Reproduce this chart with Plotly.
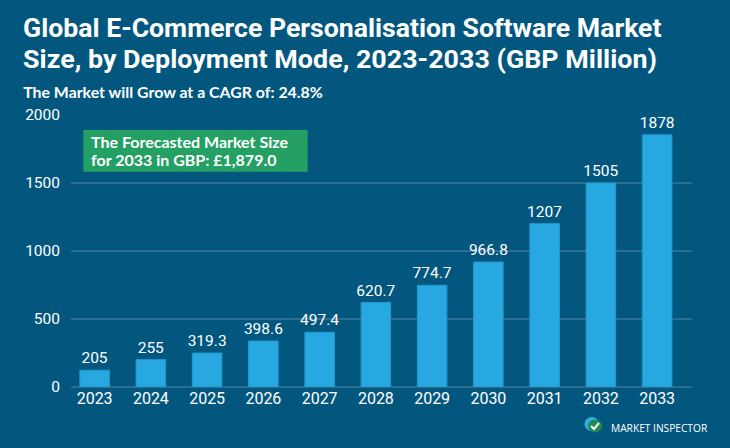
import plotly.graph_objects as go

years = ["2023", "2024", "2025", "2026", "2027", "2028", "2029", "2030", "2031", "2032", "2033"]
bar_values = [123, 201, 250, 338, 402, 621, 748, 919, 1201, 1500, 1855]
bar_labels = ["205", "255", "319.3", "398.6", "497.4", "620.7", "774.7", "966.8", "1207", "1505", "1878"]
y_ticks = [0, 500, 1000, 1500, 2000]

title_line1 = "Global E-Commerce Personalisation Software Market"
title_line2 = "Size, by Deployment Mode, 2023-2033 (GBP Million)"
subtitle = "The Market will Grow at a CAGR of: 24.8%"
callout_line1 = "The Forecasted Market Size"
callout_line2 = "for 2033 in GBP: £1,879.0"
brand = "MARKET INSPECTOR"

BG = "#03577f"
BAR = "#28a8e0"
GRID = "#2b6e93"
W, H = 730, 448
L, R, T, B = 71, 38, 115, 61
pw, ph = W - L - R, H - T - B

def px(x):
    return (x - L) / pw

def py(y):
    return (H - B - y) / ph

fig = go.Figure()
fig.add_trace(go.Bar(
    x=years, y=bar_values, text=bar_labels, textposition="outside", constraintext="none",
    textfont=dict(family="Roboto", size=15.5, color="white"),
    marker=dict(color=BAR, line=dict(color="#2198d0", width=1)),
    width=0.525, cliponaxis=False, hoverinfo="skip",
))

annotations = [
    dict(text="<b>" + title_line1 + "</b>", x=px(22.5), y=py(28.5), xanchor="left", yanchor="middle",
         font=dict(family="Roboto", size=25.5, color="white")),
    dict(text="<b>" + title_line2 + "</b>", x=px(22.5), y=py(59.5), xanchor="left", yanchor="middle",
         font=dict(family="Roboto", size=25.5, color="white")),
    dict(text="<b>" + subtitle + "</b>", x=px(23), y=py(92), xanchor="left", yanchor="middle",
         font=dict(family="Lato", size=15, color="white")),
    dict(text="<b>" + callout_line1 + "</b>", x=px(90.5), y=py(141.8), xanchor="left", yanchor="middle",
         font=dict(family="Lato", size=16, color="white")),
    dict(text="<b>" + callout_line2 + "</b>", x=px(90.5), y=py(159.5), xanchor="left", yanchor="middle",
         font=dict(family="Lato", size=16, color="white")),
    dict(text=brand, x=px(610.5), y=py(428), xanchor="left", yanchor="middle",
         font=dict(family="Open Sans", size=10.2, color="white")),
]
for a in annotations:
    a.update(xref="paper", yref="paper", showarrow=False, borderpad=0, borderwidth=0)

shapes = [
    dict(type="rect", xref="paper", yref="paper", x0=px(83.3), x1=px(307.7), y0=py(171.7), y1=py(130),
         fillcolor="#24a064", line=dict(width=0), layer="above"),
    dict(type="circle", xref="paper", yref="paper", x0=px(584.5), x1=px(599), y0=py(431), y1=py(417),
         fillcolor="#35ace3", line=dict(width=0)),
    dict(type="circle", xref="paper", yref="paper", x0=px(588), x1=px(602), y0=py(432.5), y1=py(419.5),
         fillcolor="#1e8c50", line=dict(width=0)),
    dict(type="path", xref="paper", yref="paper",
         path=f"M {px(591)} {py(426)} L {px(594)} {py(429)} L {px(599)} {py(423)}",
         line=dict(color="white", width=2)),
]

fig.update_layout(
    width=W, height=H, margin=dict(l=L, r=R, t=T, b=B),
    paper_bgcolor=BG, plot_bgcolor=BG, showlegend=False, hovermode=False,
    annotations=annotations, shapes=shapes,
    xaxis=dict(type="category", range=[-0.42, 10.62], showgrid=False, ticks="",
               tickfont=dict(family="Roboto", size=16, color="white"), showline=False, zeroline=False),
    yaxis=dict(range=[0, 2000], tickvals=y_ticks, showgrid=True, gridcolor=GRID, gridwidth=2,
               zeroline=True, zerolinecolor=GRID, zerolinewidth=2, ticks="", ticklabelstandoff=10,
               tickfont=dict(family="Roboto", size=15.5, color="white")),
)

post = """
document.body.style.margin = '0';
document.body.style.overflow = 'hidden';
var targets = {};
targets[%r] = 639; targets[%r] = 634; targets[%r] = 300;
document.querySelectorAll('text.annotation-text').forEach(function(t){
  var w = targets[t.textContent];
  if (!w) return;
  var bb = t.getBBox();
  var s = w / bb.width;
  t.setAttribute('transform', 'translate(' + bb.x + ',0) scale(' + s + ',1) translate(' + (-bb.x) + ',0)');
});
""" % (title_line1, title_line2, subtitle)

fig.write_html("out.html", post_script=post, config={"displayModeBar": False})
